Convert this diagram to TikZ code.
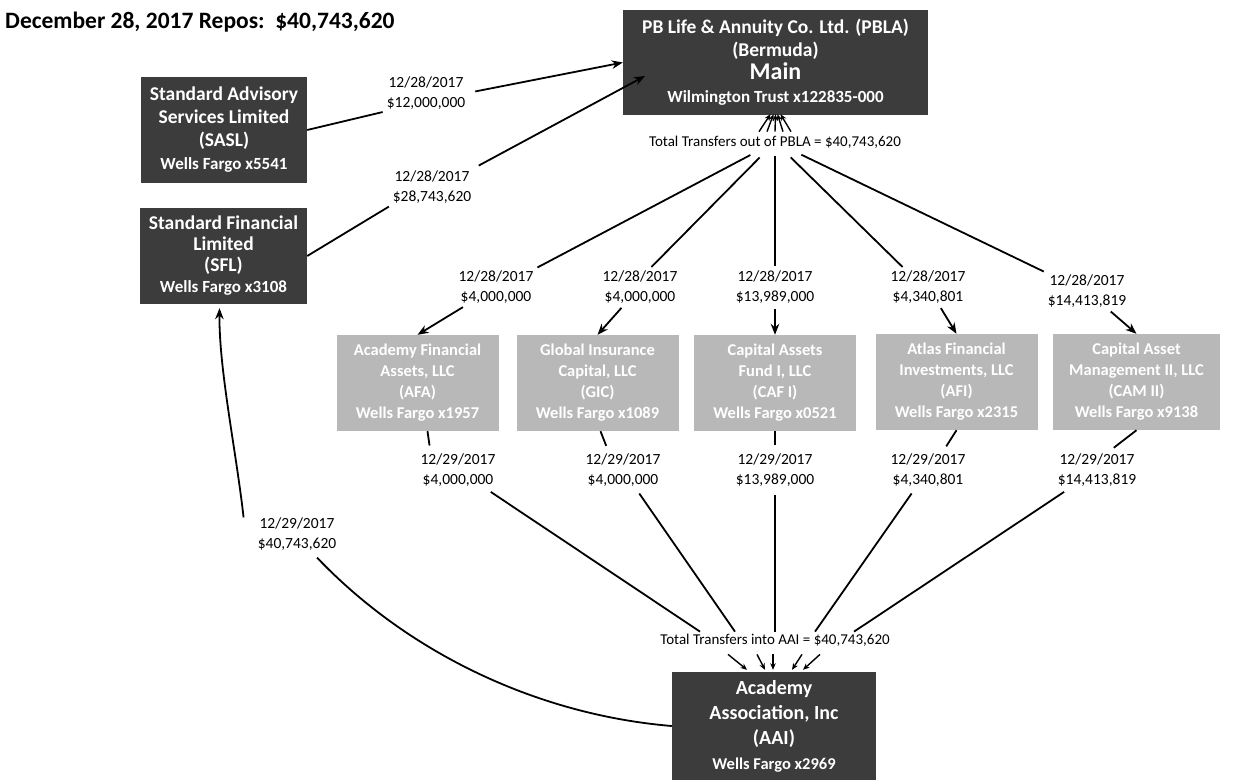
\documentclass[tikz,border=0pt]{standalone}
\usepackage{fontspec}
\setmainfont{Carlito}
\usetikzlibrary{arrows.meta,calc}
\newcommand{\myfs}[2]{\fontsize{#1}{#2}\selectfont}
\definecolor{darkfill}{HTML}{3C3C3C}
\definecolor{lightfill}{HTML}{B8B8B8}
\begin{document}
\begin{tikzpicture}[x=1pt,y=-1pt,
  darkbox/.style={fill=darkfill,text=white,align=center,inner sep=0pt},
  lightbox/.style={fill=lightfill,text=white,font=\bfseries\myfs{16.5}{21},align=center,inner sep=0pt,minimum width=162pt,minimum height=96pt},
  lab/.style={align=center,font=\myfs{15.5}{20},inner sep=2pt},
  tot/.style={font=\myfs{15}{17},inner sep=2pt},
  ln/.style={line width=1.8pt},
  arr/.style={ln,-{Stealth[length=11pt,width=8.5pt]}},
  sarr/.style={line width=1.4pt,-{Stealth[length=6.5pt,width=5.5pt]}}]
\useasboundingbox (0,0) rectangle (1233,779);

\node[anchor=base west,font=\bfseries\myfs{23.5}{26},inner sep=0pt] (title) at (5,28) {December 28, 2017 Repos:\ \ \$40,743,620};

% main boxes
\node[darkbox,minimum width=305pt,minimum height=105pt,font=\bfseries\myfs{19.5}{23}] (PBLA) at (775.5,62.5)
  {PB Life \& Annuity Co. Ltd. (PBLA)\\(Bermuda)\\{\myfs{24}{23}Main}\\{\myfs{17}{20}Wilmington Trust x122835-000}};
\node[darkbox,minimum width=166pt,minimum height=106pt,font=\bfseries\myfs{19.5}{23}] (SASL) at (224,130)
  {Standard Advisory\\Services Limited\\(SASL)\\{\myfs{17}{20}Wells Fargo x5541}};
\node[darkbox,minimum width=167pt,minimum height=96pt,font=\bfseries\myfs{19.5}{21}] (SFL) at (223.5,256)
  {Standard Financial\\Limited\\(SFL)\\{\myfs{17}{20}Wells Fargo x3108}};
\node[darkbox,minimum width=204pt,minimum height=108pt,font=\bfseries\myfs{20}{25}] (AAI) at (774,726)
  {Academy\\Association, Inc\\(AAI)\\{\myfs{16.5}{20}Wells Fargo x2969}};

% LLC boxes
\node[lightbox] (AFA) at (417.5,383) {Academy Financial\\Assets, LLC\\(AFA)\\Wells Fargo x1957};
\node[lightbox] (GIC) at (597.5,383) {Global Insurance\\Capital, LLC\\(GIC)\\Wells Fargo x1089};
\node[lightbox] (CAF) at (775,383) {Capital Assets\\Fund I, LLC\\(CAF I)\\Wells Fargo x0521};
\node[lightbox] (AFI) at (956.5,382) {Atlas Financial\\Investments, LLC\\(AFI)\\Wells Fargo x2315};
\node[lightbox,minimum width=167pt] (CAM) at (1136.5,382) {Capital Asset\\Management II, LLC\\(CAM II)\\Wells Fargo x9138};

% labels
\node[lab] (l1) at (426,93) {12/28/2017\\\$12,000,000};
\node[lab] (l2) at (432,187) {12/28/2017\\\$28,743,620};
\node[tot] (tout) at (775,142) {Total Transfers out of PBLA = \$40,743,620};
\node[lab] (uAFA) at (496,287) {12/28/2017\\\$4,000,000};
\node[lab] (uGIC) at (640,287) {12/28/2017\\\$4,000,000};
\node[lab] (uCAF) at (775,287) {12/28/2017\\\$13,989,000};
\node[lab] (uAFI) at (928,287) {12/28/2017\\\$4,340,801};
\node[lab] (uCAM) at (1087,291) {12/28/2017\\\$14,413,819};
\node[lab] (dAFA) at (458,470) {12/29/2017\\\$4,000,000};
\node[lab] (dGIC) at (623,470) {12/29/2017\\\$4,000,000};
\node[lab] (dCAF) at (775,470) {12/29/2017\\\$13,989,000};
\node[lab] (dAFI) at (928,470) {12/29/2017\\\$4,340,801};
\node[lab] (dCAM) at (1097,470) {12/29/2017\\\$14,413,819};
\node[lab] (lSFL) at (297,534) {12/29/2017\\\$40,743,620};
\node[tot] (tin) at (775,640) {Total Transfers into AAI = \$40,743,620};

% SASL / SFL to PBLA
\draw[ln,shorten >=2pt] (SASL.east) -- (l1.south west);
\draw[arr,shorten <=8pt] (l1.east) -- (PBLA.west);
\draw[ln,shorten >=2pt] (SFL.east) -- (l2.south west);
\coordinate (pbin) at (645,76);
\draw[arr,shorten <=6pt] (l2.north east) -- (pbin);

% PBLA out
\foreach \sx/\ex in {-16/-5,-8/-2,0/0,8/2,16/5}
  \draw[sarr] ($(tout.north)+(\sx,-2)$) -- ($(PBLA.south)+(\ex,-1)$);
\draw[ln,shorten <=10pt,shorten >=2pt] (tout) -- (uAFA.north east);
\draw[ln,shorten <=10pt,shorten >=2pt] (tout) -- ($(uGIC.north)+(10,0)$);
\draw[ln,shorten <=6pt,shorten >=2pt] (tout) -- (uCAF);
\draw[ln,shorten <=10pt,shorten >=2pt] (tout) -- ($(uAFI.north)+(-24,0)$);
\draw[ln,shorten <=10pt,shorten >=2pt] (tout) -- (uCAM.north west);

\draw[arr,shorten <=3pt] (uAFA) -- (AFA.north);
\draw[arr,shorten <=3pt] (uGIC) -- (GIC.north);
\draw[arr,shorten <=3pt] (uCAF) -- (CAF.north);
\draw[arr,shorten <=3pt] (uAFI) -- (AFI.north);
\draw[arr,shorten <=3pt] (uCAM) -- (CAM.north);

% LLC to lower labels
\draw[ln,shorten >=6pt] ($(AFA.south)+(10,0)$) -- ($(dAFA.north west)+(12,0)$);
\draw[ln,shorten >=6pt] ($(GIC.south)+(3,0)$) -- ($(dGIC.north west)+(25,0)$);
\draw[ln,shorten >=6pt] (CAF.south) -- (dCAF.north);
\draw[ln,shorten >=6pt] (AFI.south) -- ($(dAFI.north)+(15,0)$);
\draw[ln,shorten >=6pt] (CAM.south) -- ($(dCAM.north)+(12,0)$);

% lower labels to AAI
\draw[ln,shorten <=6pt] (dAFA) -- ($(tin.north)+(-75,0)$);
\draw[ln,shorten <=6pt] (dGIC) -- ($(tin.north)+(-40,0)$);
\draw[ln,shorten <=6pt] (dCAF) -- (tin.north);
\draw[ln,shorten <=6pt] (dAFI) -- ($(tin.north)+(40,0)$);
\draw[ln,shorten <=6pt] (dCAM) -- ($(tin.north)+(79,0)$);
\foreach \sx/\ex in {-47/-27,-18/-9,-2/-1,27/18,45/29}
  \draw[sarr] ($(tin.south)+(\sx,6)$) -- ($(AAI.north)+(\ex,-2)$);

% AAI back to SFL
\draw[ln] (AAI.west) .. controls (540,715) and (410,655) .. ($(lSFL.south)+(20,5)$);
\draw[arr] ($(lSFL.north west)+(-12,2)$) .. controls (236,450) and (219,370) .. ($(SFL.south)+(-4,4)$);
\end{tikzpicture}
\end{document}
